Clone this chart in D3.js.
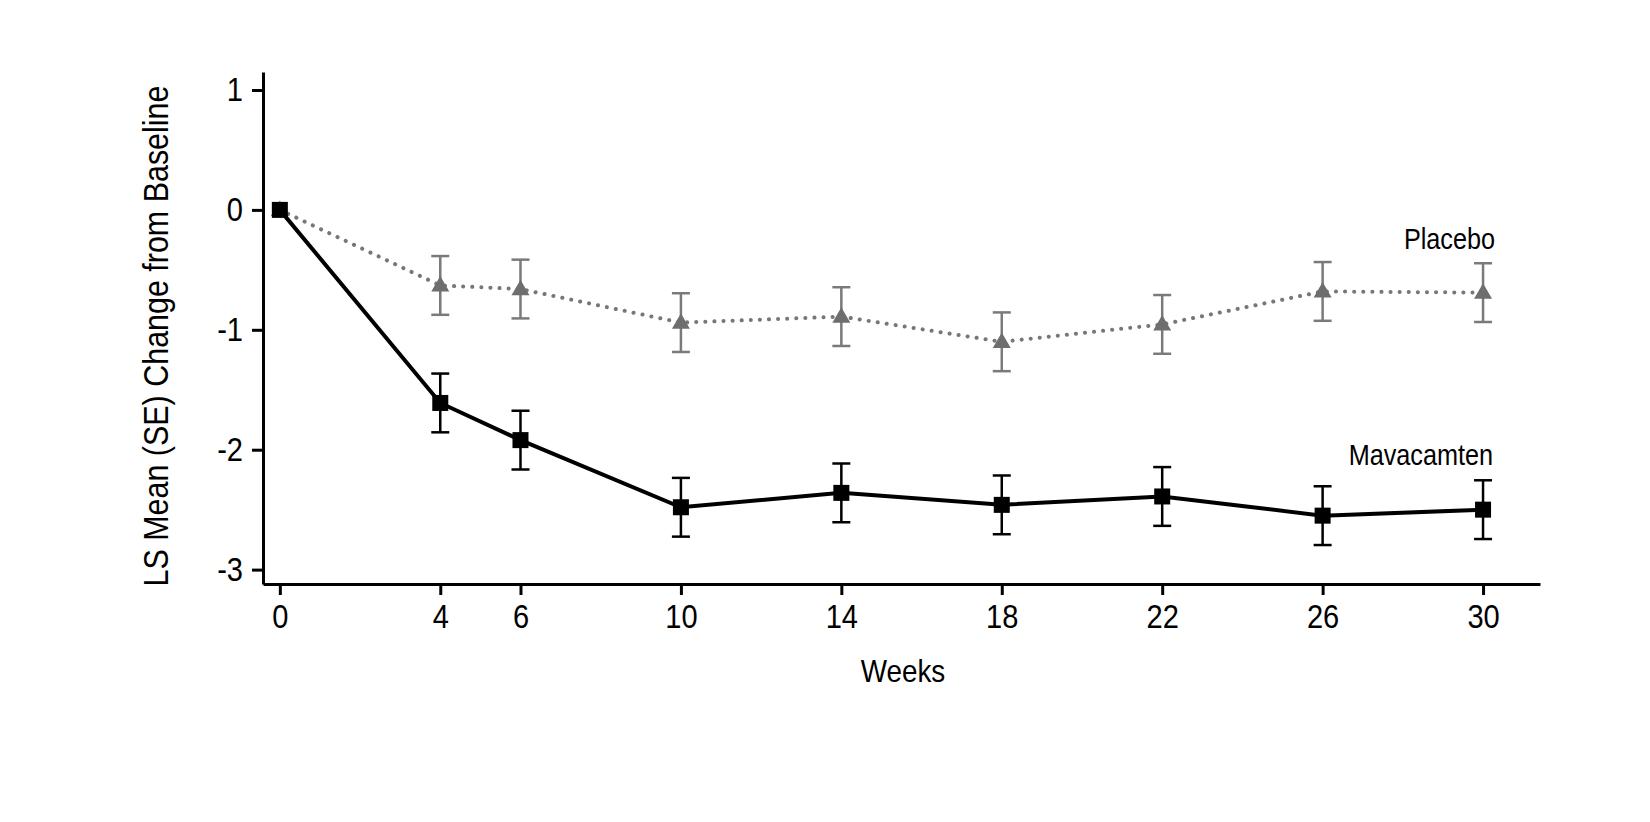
<!DOCTYPE html>
<html>
<head>
	<meta charset="utf-8">
	<script src="https://d3js.org/d3.v7.min.js"></script>
	<style>
		body { margin: 0; background: #fff; }
		text { font-family: "Liberation Sans", Arial, sans-serif; fill: #000; }
	</style>
</head>
<body>
	<div id="chart"></div>
	<script>
		// weeks on the x axis
		let weeks = [0, 4, 6, 10, 14, 18, 22, 26, 30];
		let yTicks = [1, 0, -1, -2, -3];

		// LS mean change from baseline, with SE
		let mavaMean = [0, -1.61, -1.92, -2.48, -2.36, -2.46, -2.39, -2.55, -2.50];
		let mavaSE = [0, 0.245, 0.245, 0.245, 0.245, 0.245, 0.245, 0.245, 0.245];
		let placMean = [0, -0.63, -0.66, -0.94, -0.89, -1.10, -0.955, -0.68, -0.69];
		let placSE = [0, 0.245, 0.245, 0.245, 0.245, 0.245, 0.245, 0.245, 0.245];

		let W = 1650, H = 822;
		let narrow = 0.87; // squeeze Liberation Sans to look like a condensed face

		let svg = d3.select("#chart").append("svg")
			.attr("width", W)
			.attr("height", H);

		let x = d3.scaleLinear().domain([-0.42, 31.42]).range([263, 1540]);
		let y = d3.scaleLinear().domain([-3.12, 1.15]).range([584, 72]);

		// condensed text helper
		function label(px, py, str, size, anchor, rot) {
			return svg.append("text")
				.attr("transform", "translate(" + px + "," + py + ")" + (rot ? " rotate(" + rot + ")" : "") + " scale(" + narrow + ",1)")
				.attr("text-anchor", anchor)
				.style("font-size", size + "px")
				.text(str);
		}

		// axes
		let xAxis = svg.append("g")
			.attr("transform", "translate(0,584)")
			.call(d3.axisBottom(x).tickValues(weeks).tickSize(11).tickSizeOuter(0).tickPadding(10)
				.tickFormat(function (d) { return String(d); }));
		let yAxis = svg.append("g")
			.attr("transform", "translate(263,0)")
			.call(d3.axisLeft(y).tickValues(yTicks).tickSize(11).tickSizeOuter(0).tickPadding(9)
				.tickFormat(function (d) { return String(d); }));

		[xAxis, yAxis].forEach(function (g) {
			g.select(".domain").attr("stroke", "#000").attr("stroke-width", 3);
			g.selectAll(".tick line").attr("stroke", "#000").attr("stroke-width", 3);
			g.selectAll(".tick text")
				.style("font-family", "'Liberation Sans', Arial, sans-serif")
				.style("font-size", "33px")
				.attr("fill", "#000")
				.attr("transform", function () {
					return "translate(" + (+d3.select(this).attr("x") || 0) + ",0) scale(0.88,1)";
				})
				.attr("x", 0);
		});

		label(903, 682, "Weeks", 32, "middle");
		label(168, 336, "LS Mean (SE) Change from Baseline", 35, "middle", -90);

		function series(mean, se) {
			return weeks.map(function (w, i) {
				return { w: w, m: mean[i], se: se[i] };
			});
		}

		let line = d3.line()
			.x(function (d) { return x(d.w); })
			.y(function (d) { return y(d.m); });

		function errorBars(data, color) {
			let g = svg.append("g").attr("stroke", color).attr("stroke-width", 2.5);
			let bars = data.filter(function (d) { return d.se > 0; });
			g.selectAll(".v").data(bars).enter().append("line")
				.attr("x1", function (d) { return x(d.w); })
				.attr("x2", function (d) { return x(d.w); })
				.attr("y1", function (d) { return y(d.m + d.se); })
				.attr("y2", function (d) { return y(d.m - d.se); });
			[1, -1].forEach(function (s) {
				g.selectAll(".c" + s).data(bars).enter().append("line")
					.attr("x1", function (d) { return x(d.w) - 9; })
					.attr("x2", function (d) { return x(d.w) + 9; })
					.attr("y1", function (d) { return y(d.m + s * d.se); })
					.attr("y2", function (d) { return y(d.m + s * d.se); });
			});
		}

		// placebo
		let plac = series(placMean, placSE);
		errorBars(plac, "#7a7a7a");
		svg.append("path").datum(plac)
			.attr("d", line)
			.attr("fill", "none")
			.attr("stroke", "#777")
			.attr("stroke-width", 4)
			.attr("stroke-linecap", "round")
			.attr("stroke-dasharray", "0.1 9");
		svg.selectAll(".tri").data(plac).enter().append("path")
			.attr("d", d3.symbol().type(d3.symbolTriangle).size(140))
			.attr("transform", function (d) { return "translate(" + x(d.w) + "," + (y(d.m) + 1) + ")"; })
			.attr("fill", "#6e6e6e");

		// mavacamten
		let mava = series(mavaMean, mavaSE);
		errorBars(mava, "#000");
		svg.append("path").datum(mava)
			.attr("d", line)
			.attr("fill", "none")
			.attr("stroke", "#000")
			.attr("stroke-width", 4);
		svg.selectAll(".sq").data(mava).enter().append("rect")
			.attr("x", function (d) { return x(d.w) - 8; })
			.attr("y", function (d) { return y(d.m) - 8; })
			.attr("width", 16)
			.attr("height", 16)
			.attr("fill", "#000");

		// series labels
		label(x(30) + 12, y(placMean[8]) - 44, "Placebo", 29, "end");
		label(x(30) + 10, y(mavaMean[8]) - 45, "Mavacamten", 29, "end");
	</script>
</body>
</html>
